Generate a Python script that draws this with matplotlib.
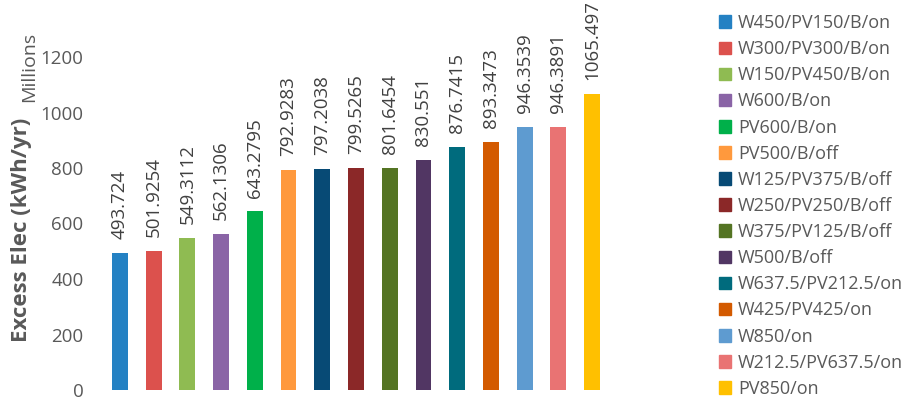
import matplotlib.pyplot as plt
from matplotlib.patches import Patch

plt.rcParams['font.family'] = ['Open Sans', 'DejaVu Sans']

# scenario names and excess electricity (millions of kWh/yr)
scenarios = ["W450/PV150/B/on", "W300/PV300/B/on", "W150/PV450/B/on", "W600/B/on",
             "PV600/B/on", "PV500/B/off", "W125/PV375/B/off", "W250/PV250/B/off",
             "W375/PV125/B/off", "W500/B/off", "W637.5/PV212.5/on", "W425/PV425/on",
             "W850/on", "W212.5/PV637.5/on", "PV850/on"]
excess = [493.724, 501.9254, 549.3112, 562.1306, 643.2795, 792.9283, 797.2038, 799.5265,
          801.6454, 830.551, 876.7415, 893.3473, 946.3539, 946.3891, 1065.497]
labels = ["493.724", "501.9254", "549.3112", "562.1306", "643.2795", "792.9283", "797.2038",
          "799.5265", "801.6454", "830.551", "876.7415", "893.3473", "946.3539", "946.3891",
          "1065.497"]
colors = ["#2481C3", "#DC514D", "#8FBB52", "#8A64A6", "#00B04A", "#FF993D", "#074A75",
          "#8B2828", "#547423", "#513663", "#006B7D", "#D35A00", "#5E9BD0", "#E97373",
          "#FFC000"]

grey = "#595959"

fig = plt.figure(figsize=(9.14, 4.01), dpi=100)
ax = fig.add_axes([103 / 914, 11 / 401, 506 / 914, 333 / 401])

x = range(len(excess))
ax.bar(x, excess, width=0.47, color=colors)
for i, (v, s) in enumerate(zip(excess, labels)):
    ax.annotate(s, (i, v), xytext=(0, 10), textcoords="offset points",
                rotation=90, ha="center", va="bottom", fontsize=13.5,
                color="#404040", annotation_clip=False)

ax.set_xlim(-0.5, len(excess) - 0.5)
ax.set_ylim(0, 1200)
ax.set_yticks(range(0, 1201, 200))
ax.set_xticks([])
ax.tick_params(axis="y", length=0, labelsize=13.5, labelcolor=grey, pad=14)
for sp in ax.spines.values():
    sp.set_visible(False)

fig.text(22 / 914, 1 - 230 / 401, "Excess Elec (kWh/yr)", rotation=90, ha="center",
         va="center", fontsize=16, fontweight="bold", color=grey)
fig.text(29 / 914, 1 - 67 / 401, "Millions", rotation=90, ha="center", va="center",
         fontsize=14, color=grey)

handles = [Patch(color=c) for c in colors]
fig.legend(handles, scenarios, loc="upper left", bbox_to_anchor=(708 / 914, 0.992),
           frameon=False, fontsize=13, labelcolor=grey, handlelength=0.7,
           handleheight=0.7, handletextpad=0.35, labelspacing=0.45, borderaxespad=0.2)

fig.savefig("out.png", dpi=100)
